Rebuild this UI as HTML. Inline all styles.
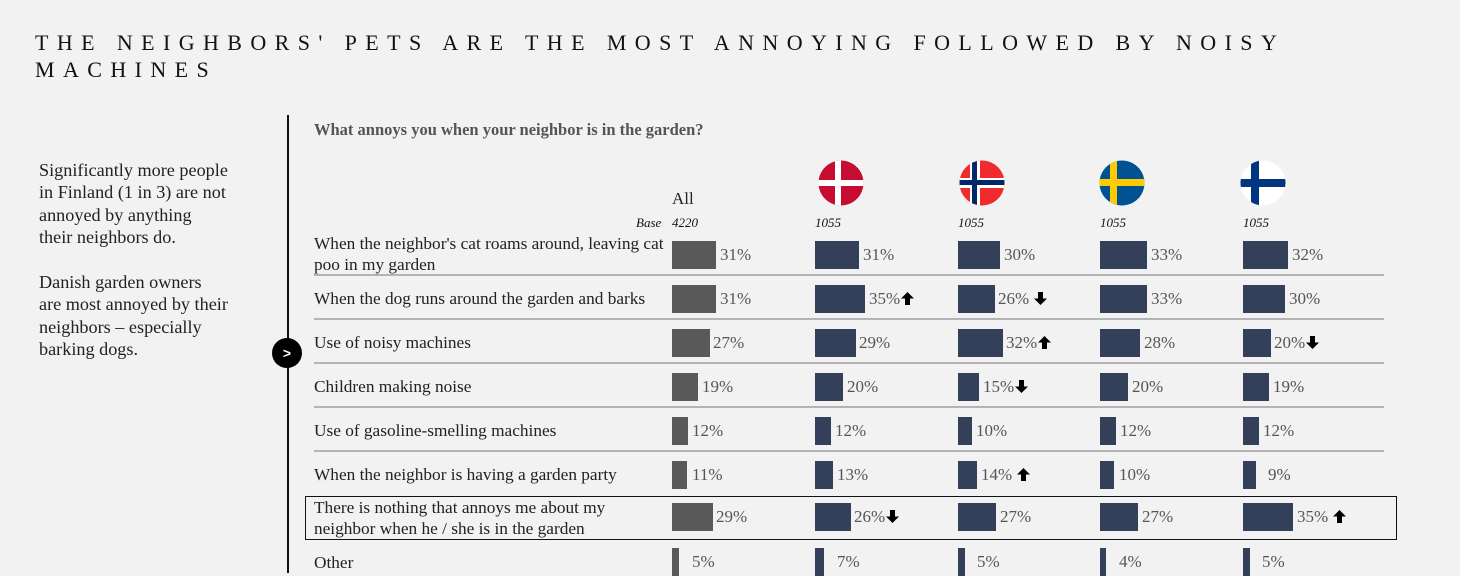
<!DOCTYPE html>
<html><head><meta charset="utf-8"><style>
html,body{margin:0;padding:0;}
body{width:1460px;height:573px;background:#f2f2f2;position:relative;overflow:hidden;font-family:"Liberation Serif",serif;color:#222;}
.a{position:absolute;white-space:nowrap;}
.t{left:35px;font-size:22px;letter-spacing:8.4px;color:#111;line-height:27px;}
.side{left:39px;font-size:18.2px;line-height:22.3px;color:#222;}
.lbl{left:314px;font-size:17.3px;line-height:21px;color:#222;}
.bar{position:absolute;height:28px;background:#344059;}
.g{background:#595959;}
.p{position:absolute;font-size:17px;color:#555;line-height:28px;}
.sep{position:absolute;left:314px;width:1070px;height:2px;background:#b4b4b4;}
.it{font-style:italic;font-size:13px;color:#111;}
.u,.d{display:inline-block;width:13px;height:13px;vertical-align:-1px;margin-left:1px;}
</style></head><body>
<svg width="0" height="0" style="position:absolute"><defs>
<symbol id="up" viewBox="0 0 13 13"><path d="M6.5 0 L13 6.5 L9 6.5 L9 13 L4 13 L4 6.5 L0 6.5 Z" fill="#000"/></symbol>
<symbol id="dn" viewBox="0 0 13 13"><path d="M6.5 13 L13 6.5 L9 6.5 L9 0 L4 0 L4 6.5 L0 6.5 Z" fill="#000"/></symbol>
</defs></svg>
<div class="a t" style="top:29px">THE NEIGHBORS' PETS ARE THE MOST ANNOYING FOLLOWED BY NOISY</div>
<div class="a t" style="top:56px">MACHINES</div>

<div class="a side" style="top:159px">Significantly more people<br>in Finland (1 in 3) are not<br>annoyed by anything<br>their neighbors do.</div>
<div class="a side" style="top:271px">Danish garden owners<br>are most annoyed by their<br>neighbors – especially<br>barking dogs.</div>

<div class="a" style="left:287px;top:115px;width:1.5px;height:458px;background:#111"></div>
<div class="a" style="left:272px;top:338px;width:30px;height:30px;border-radius:50%;background:#000;color:#fff;font-family:'Liberation Sans',sans-serif;font-weight:bold;font-size:14px;text-align:center;line-height:30px">&gt;</div>

<div class="a" style="left:314px;top:120px;font-size:16.5px;font-weight:bold;color:#555">What annoys you when your neighbor is in the garden?</div>

<svg class="a" style="left:0;top:0" width="1460" height="230">
<defs>
<clipPath id="c1"><circle cx="841" cy="183" r="22.5"/></clipPath>
<clipPath id="c2"><circle cx="982" cy="183" r="22.5"/></clipPath>
<clipPath id="c3"><circle cx="1122" cy="183" r="22.5"/></clipPath>
<clipPath id="c4"><circle cx="1263" cy="183" r="22.5"/></clipPath>
</defs>
<g clip-path="url(#c1)"><rect x="818" y="160" width="46" height="46" fill="#c60c30"/><rect x="835" y="160" width="6" height="46" fill="#fff"/><rect x="818" y="180" width="46" height="6" fill="#fff"/></g>
<g clip-path="url(#c2)"><rect x="959" y="160" width="46" height="46" fill="#ef2b2d"/><rect x="970" y="160" width="10" height="46" fill="#fff"/><rect x="959" y="178" width="46" height="10" fill="#fff"/><rect x="972" y="160" width="5" height="46" fill="#002868"/><rect x="959" y="180" width="46" height="5" fill="#002868"/></g>
<g clip-path="url(#c3)"><rect x="1099" y="160" width="46" height="46" fill="#005293"/><rect x="1110" y="160" width="7" height="46" fill="#fecb00"/><rect x="1099" y="179" width="46" height="7" fill="#fecb00"/></g>
<g clip-path="url(#c4)"><rect x="1240" y="160" width="46" height="46" fill="#fff"/><rect x="1251" y="160" width="8" height="46" fill="#003580"/><rect x="1240" y="179" width="46" height="8" fill="#003580"/></g>
</svg>

<div class="a" style="left:672px;top:189px;font-size:17px">All</div>
<div class="a it" style="left:636px;top:215px">Base</div>
<div class="a it" style="left:672px;top:215px">4220</div>
<div class="a it" style="left:815px;top:215px">1055</div>
<div class="a it" style="left:958px;top:215px">1055</div>
<div class="a it" style="left:1100px;top:215px">1055</div>
<div class="a it" style="left:1243px;top:215px">1055</div>

<div class="a lbl" style="top:233px">When the neighbor's cat roams around, leaving cat<br>poo in my garden</div>
<div class="a lbl" style="top:288px">When the dog runs around the garden and barks</div>
<div class="a lbl" style="top:332px">Use of noisy machines</div>
<div class="a lbl" style="top:376px">Children making noise</div>
<div class="a lbl" style="top:420px">Use of gasoline-smelling machines</div>
<div class="a lbl" style="top:464px">When the neighbor is having a garden party</div>
<div class="a lbl" style="top:497px">There is nothing that annoys me about my<br>neighbor when he / she is in the garden</div>
<div class="a lbl" style="top:552px">Other</div>

<div class="sep" style="top:274px"></div>
<div class="sep" style="top:318px"></div>
<div class="sep" style="top:362px"></div>
<div class="sep" style="top:406px"></div>
<div class="sep" style="top:450px"></div>
<div class="a" style="left:305px;top:496px;width:1090px;height:42px;border:1.5px solid #111"></div>

<div class="bar g" style="left:672px;top:241px;width:44px"></div><div class="p" style="left:720px;top:241px">31%</div>
<div class="bar" style="left:815px;top:241px;width:44px"></div><div class="p" style="left:863px;top:241px">31%</div>
<div class="bar" style="left:958px;top:241px;width:42px"></div><div class="p" style="left:1004px;top:241px">30%</div>
<div class="bar" style="left:1100px;top:241px;width:47px"></div><div class="p" style="left:1151px;top:241px">33%</div>
<div class="bar" style="left:1243px;top:241px;width:45px"></div><div class="p" style="left:1292px;top:241px">32%</div>

<div class="bar g" style="left:672px;top:285px;width:44px"></div><div class="p" style="left:720px;top:285px">31%</div>
<div class="bar" style="left:815px;top:285px;width:50px"></div><div class="p" style="left:869px;top:285px">35%<svg class="u"><use href="#up"/></svg></div>
<div class="bar" style="left:958px;top:285px;width:37px"></div><div class="p" style="left:998px;top:285px">26% <svg class="d"><use href="#dn"/></svg></div>
<div class="bar" style="left:1100px;top:285px;width:47px"></div><div class="p" style="left:1151px;top:285px">33%</div>
<div class="bar" style="left:1243px;top:285px;width:42px"></div><div class="p" style="left:1289px;top:285px">30%</div>

<div class="bar g" style="left:672px;top:329px;width:38px"></div><div class="p" style="left:713px;top:329px">27%</div>
<div class="bar" style="left:815px;top:329px;width:41px"></div><div class="p" style="left:859px;top:329px">29%</div>
<div class="bar" style="left:958px;top:329px;width:45px"></div><div class="p" style="left:1006px;top:329px">32%<svg class="u"><use href="#up"/></svg></div>
<div class="bar" style="left:1100px;top:329px;width:40px"></div><div class="p" style="left:1144px;top:329px">28%</div>
<div class="bar" style="left:1243px;top:329px;width:28px"></div><div class="p" style="left:1274px;top:329px">20%<svg class="d"><use href="#dn"/></svg></div>

<div class="bar g" style="left:672px;top:373px;width:26px"></div><div class="p" style="left:702px;top:373px">19%</div>
<div class="bar" style="left:815px;top:373px;width:28px"></div><div class="p" style="left:847px;top:373px">20%</div>
<div class="bar" style="left:958px;top:373px;width:21px"></div><div class="p" style="left:983px;top:373px">15%<svg class="d"><use href="#dn"/></svg></div>
<div class="bar" style="left:1100px;top:373px;width:28px"></div><div class="p" style="left:1132px;top:373px">20%</div>
<div class="bar" style="left:1243px;top:373px;width:26px"></div><div class="p" style="left:1273px;top:373px">19%</div>

<div class="bar g" style="left:672px;top:417px;width:16px"></div><div class="p" style="left:692px;top:417px">12%</div>
<div class="bar" style="left:815px;top:417px;width:16px"></div><div class="p" style="left:835px;top:417px">12%</div>
<div class="bar" style="left:958px;top:417px;width:14px"></div><div class="p" style="left:976px;top:417px">10%</div>
<div class="bar" style="left:1100px;top:417px;width:16px"></div><div class="p" style="left:1120px;top:417px">12%</div>
<div class="bar" style="left:1243px;top:417px;width:16px"></div><div class="p" style="left:1263px;top:417px">12%</div>

<div class="bar g" style="left:672px;top:461px;width:15px"></div><div class="p" style="left:692px;top:461px">11%</div>
<div class="bar" style="left:815px;top:461px;width:18px"></div><div class="p" style="left:837px;top:461px">13%</div>
<div class="bar" style="left:958px;top:461px;width:19px"></div><div class="p" style="left:981px;top:461px">14% <svg class="u"><use href="#up"/></svg></div>
<div class="bar" style="left:1100px;top:461px;width:14px"></div><div class="p" style="left:1119px;top:461px">10%</div>
<div class="bar" style="left:1243px;top:461px;width:13px"></div><div class="p" style="left:1268px;top:461px">9%</div>

<div class="bar g" style="left:672px;top:503px;width:41px"></div><div class="p" style="left:716px;top:503px">29%</div>
<div class="bar" style="left:815px;top:503px;width:36px"></div><div class="p" style="left:854px;top:503px">26%<svg class="d"><use href="#dn"/></svg></div>
<div class="bar" style="left:958px;top:503px;width:38px"></div><div class="p" style="left:1000px;top:503px">27%</div>
<div class="bar" style="left:1100px;top:503px;width:38px"></div><div class="p" style="left:1142px;top:503px">27%</div>
<div class="bar" style="left:1243px;top:503px;width:50px"></div><div class="p" style="left:1297px;top:503px">35% <svg class="u"><use href="#up"/></svg></div>

<div class="bar g" style="left:672px;top:548px;width:7px"></div><div class="p" style="left:692px;top:548px">5%</div>
<div class="bar" style="left:815px;top:548px;width:9px"></div><div class="p" style="left:837px;top:548px">7%</div>
<div class="bar" style="left:958px;top:548px;width:7px"></div><div class="p" style="left:977px;top:548px">5%</div>
<div class="bar" style="left:1100px;top:548px;width:6px"></div><div class="p" style="left:1119px;top:548px">4%</div>
<div class="bar" style="left:1243px;top:548px;width:7px"></div><div class="p" style="left:1262px;top:548px">5%</div>
</body></html>
